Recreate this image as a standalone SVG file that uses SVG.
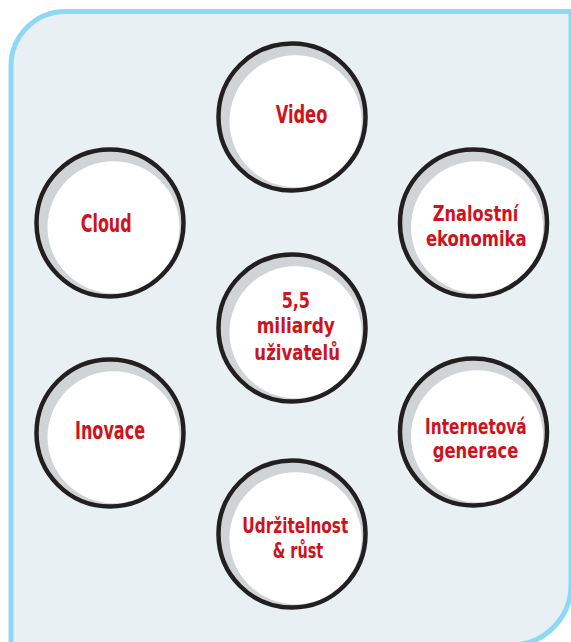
<svg xmlns="http://www.w3.org/2000/svg" width="571" height="642" viewBox="0 0 571 642">
<defs>
<style>
.bg{fill:#e8f0f4;stroke:#8fd8f5;stroke-width:5}
.sh{fill:#d1d4d7}
.wh{fill:#ffffff}
.ring{fill:none;stroke:#231f20;stroke-width:4.5}
.t{font-family:"Liberation Sans Narrow","DejaVu Sans Condensed","Liberation Sans",sans-serif;font-stretch:condensed;font-weight:bold;font-size:24px;fill:#d0121c;text-anchor:middle}
.m{font-size:22px}
</style>
<g id="bubble">
<circle class="sh" cx="0" cy="0" r="71.5"/>
<circle class="wh" cx="3.5" cy="4.2" r="66"/>
<circle class="ring" cx="0" cy="0" r="73.5"/>
</g>
</defs>
<path class="bg" d="M11,646 L11,66 A54.5,54.5 0 0 1 65.5,11.5 L571,11.5 L571,585 A60,60 0 0 1 511,645 L11,645 Z"/>
<g id="connectors"/>
<g id="node-video">
<use href="#bubble" x="292" y="117"/>
<text class="t" x="301.5" y="123.3" textLength="51.6" lengthAdjust="spacingAndGlyphs">Video</text>
</g>
<g id="node-cloud">
<use href="#bubble" x="110" y="223"/>
<text class="t" x="106.2" y="231.7" textLength="51" lengthAdjust="spacingAndGlyphs">Cloud</text>
</g>
<g id="node-znalostni">
<use href="#bubble" x="473.5" y="223"/>
<text class="t m" x="475.5" y="221" textLength="85.6" lengthAdjust="spacingAndGlyphs">Znalostní</text>
<text class="t m" x="476.3" y="245.8" textLength="100.7" lengthAdjust="spacingAndGlyphs">ekonomika</text>
</g>
<g id="node-center">
<use href="#bubble" x="292" y="328"/>
<text class="t m" x="295.8" y="308.3" textLength="28.3" lengthAdjust="spacingAndGlyphs">5,5</text>
<text class="t m" x="295.8" y="333.3" textLength="78.3" lengthAdjust="spacingAndGlyphs">miliardy</text>
<text class="t m" x="297.2" y="360" textLength="85.7" lengthAdjust="spacingAndGlyphs">uživatelů</text>
</g>
<g id="node-inovace">
<use href="#bubble" x="110" y="433"/>
<text class="t" x="110" y="439.3" textLength="70" lengthAdjust="spacingAndGlyphs">Inovace</text>
</g>
<g id="node-internetova">
<use href="#bubble" x="473.5" y="432"/>
<text class="t m" x="475.9" y="433.5" textLength="101.7" lengthAdjust="spacingAndGlyphs">Internetová</text>
<text class="t m" x="475.5" y="458.3" textLength="85.6" lengthAdjust="spacingAndGlyphs">generace</text>
</g>
<g id="node-udrzitelnost">
<use href="#bubble" x="292" y="534"/>
<text class="t m" x="295.3" y="533.3" textLength="106" lengthAdjust="spacingAndGlyphs">Udržitelnost</text>
<text class="t m" x="298" y="558.1" textLength="50.6" lengthAdjust="spacingAndGlyphs">&amp; růst</text>
</g>
</svg>
